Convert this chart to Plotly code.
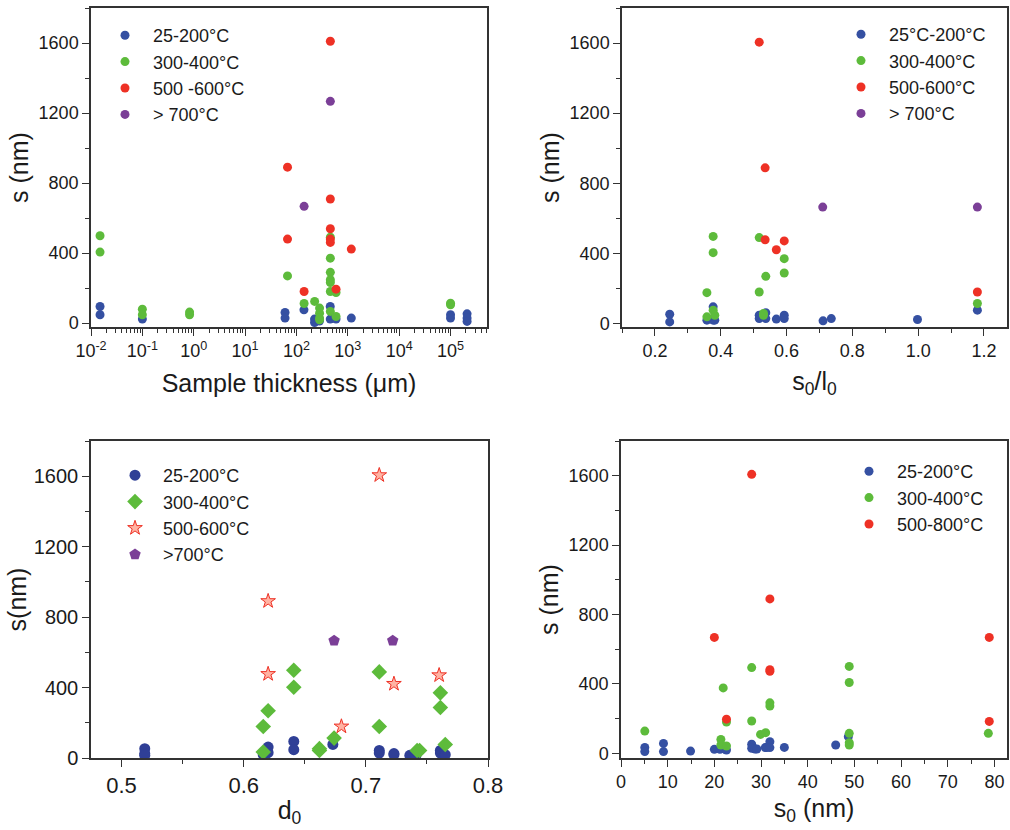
import plotly.graph_objects as go

# ---------------- data ----------------
# Panel A: s vs sample thickness (um), log x
a_blue_x = [0.015, 0.015, 0.1, 60, 60, 140, 225, 225, 280, 280, 455, 455, 590, 1170, 1e5, 1e5, 2.1e5, 2.1e5, 2.1e5]
a_blue_y = [95, 48, 23, 61, 29, 76, 23, 4, 19, 12, 95, 23, 23, 29, 48, 29, 53, 29, 10]
a_green_x = [0.015, 0.015, 0.1, 0.1, 0.83, 0.83, 67, 141, 226, 282, 282, 282, 282,
             457, 457, 457, 457, 457, 457, 457, 590, 590, 1e5, 1e5]
a_green_y = [499, 406, 80, 48, 63, 48, 270, 112, 124, 86, 57, 29, 19,
             491, 371, 290, 248, 232, 181, 67, 175, 38, 114, 105]
a_red_x = [67, 67, 141, 457, 457, 457, 457, 457, 590, 1170]
a_red_y = [891, 480, 181, 1610, 709, 539, 480, 461, 194, 423]
a_purple_x = [141, 457]
a_purple_y = [667, 1267]
a_names = ["25-200°C", "300-400°C", "500 -600°C", "> 700°C"]

# Panel B: s vs s0/l0
b_blue_x = [0.245, 0.245, 0.358, 0.377, 0.377, 0.382, 0.517, 0.517, 0.537, 0.537, 0.569,
            0.593, 0.593, 0.711, 0.736, 0.998, 1.18]
b_blue_y = [53, 9, 19, 95, 19, 19, 47, 28, 61, 28, 25, 47, 28, 15, 28, 23, 76]
b_green_x = [0.358, 0.358, 0.377, 0.377, 0.377, 0.382, 0.517, 0.517, 0.53, 0.53, 0.537,
             0.593, 0.593, 1.18]
b_green_y = [176, 38, 497, 404, 76, 47, 490, 180, 57, 47, 269, 370, 288, 114]
b_red_x = [0.517, 0.535, 0.535, 0.569, 0.593, 1.18]
b_red_y = [1605, 888, 478, 421, 471, 180]
b_purple_x = [0.71, 1.18]
b_purple_y = [664, 664]
b_names = ["25°C-200°C", "300-400°C", "500-600°C", "> 700°C"]

# Panel C: s vs d0
c_blue_x = [0.519, 0.519, 0.519, 0.616, 0.62, 0.62, 0.641, 0.641, 0.673, 0.711, 0.711,
            0.723, 0.723, 0.736, 0.741, 0.761, 0.761, 0.765]
c_blue_y = [53, 25, 15, 19, 62, 30, 94, 47, 77, 43, 28, 25, 19, 15, 15, 43, 28, 19]
c_green_x = [0.616, 0.616, 0.62, 0.641, 0.641, 0.662, 0.662, 0.674, 0.711, 0.711,
             0.742, 0.744, 0.761, 0.761, 0.765]
c_green_y = [179, 34, 268, 498, 402, 53, 43, 113, 489, 179, 43, 43, 370, 287, 77]
c_red_x = [0.62, 0.62, 0.68, 0.711, 0.723, 0.76]
c_red_y = [891, 477, 179, 1606, 421, 470]
c_purple_x = [0.674, 0.722]
c_purple_y = [666, 666]
c_names = ["25-200°C", "300-400°C", "500-600°C", ">700°C"]

# Panel D: s vs s0 (nm)
d_blue_x = [5.1, 5.1, 9.1, 9.1, 14.9, 20, 21.2, 22.3, 22.6, 28, 28, 28.7, 29.1, 30.9, 31.2,
            31.9, 31.9, 35, 46, 48.7]
d_blue_y = [34, 10, 57, 10, 13, 23, 23, 23, 19, 52, 29, 25, 25, 33, 33, 67, 33, 34, 48, 96]
d_green_x = [5.1, 21.4, 21.4, 21.9, 22.6, 22.6, 28, 28, 29.9, 31, 31.9, 31.9,
             48.9, 48.9, 48.9, 48.9, 48.9, 78.7]
d_green_y = [128, 80, 48, 377, 180, 42, 494, 186, 109, 119, 291, 272,
             501, 408, 115, 61, 48, 115]
d_red_x = [20, 22.6, 28, 31.9, 31.9, 31.9, 78.9, 78.9]
d_red_y = [668, 197, 1608, 890, 482, 473, 668, 184]
d_names = ["25-200°C", "300-400°C", "500-800°C"]

y_ticks = [0, 400, 800, 1200, 1600]
log_ticks = [-2, -1, 0, 1, 2, 3, 4, 5]

# ---------------- style ----------------
W, H = 1010, 830
BLUE = "#3550a2"
GREEN = "#5dbb3b"
RED = "#ee3125"
PURPLE = "#7b3f97"
AX = "#333333"
TXT = "#1a1a1a"
FONT = "Liberation Sans, Arial, sans-serif"


def px_x(a, b):
    return [a / W, b / W]


def px_y(top, bottom):
    return [1 - bottom / H, 1 - top / H]


fig = go.Figure()


def add(x, y, name, color, xa, ya, leg, symbol="circle", size=9, line=None):
    mk = dict(color=color, size=size, symbol=symbol)
    if line:
        mk["line"] = line
    fig.add_trace(go.Scatter(x=x, y=y, mode="markers", name=name, marker=mk,
                             xaxis=xa, yaxis=ya, legend=leg))


add(a_blue_x, a_blue_y, a_names[0], BLUE, "x", "y", "legend")
add(a_green_x, a_green_y, a_names[1], GREEN, "x", "y", "legend")
add(a_red_x, a_red_y, a_names[2], RED, "x", "y", "legend")
add(a_purple_x, a_purple_y, a_names[3], PURPLE, "x", "y", "legend")

add(b_blue_x, b_blue_y, b_names[0], BLUE, "x2", "y2", "legend2")
add(b_green_x, b_green_y, b_names[1], GREEN, "x2", "y2", "legend2")
add(b_red_x, b_red_y, b_names[2], RED, "x2", "y2", "legend2")
add(b_purple_x, b_purple_y, b_names[3], PURPLE, "x2", "y2", "legend2")

add(c_blue_x, c_blue_y, c_names[0], "#2f3f96", "x3", "y3", "legend3", size=11)
add(c_green_x, c_green_y, c_names[1], GREEN, "x3", "y3", "legend3", symbol="diamond", size=12)
add(c_red_x, c_red_y, c_names[2], "#ffb3a3", "x3", "y3", "legend3", symbol="star", size=11,
    line=dict(color=RED, width=1))
add(c_purple_x, c_purple_y, c_names[3], PURPLE, "x3", "y3", "legend3", symbol="pentagon", size=12)

add(d_blue_x, d_blue_y, d_names[0], BLUE, "x4", "y4", "legend4")
add(d_green_x, d_green_y, d_names[1], GREEN, "x4", "y4", "legend4")
add(d_red_x, d_red_y, d_names[2], RED, "x4", "y4", "legend4")


def base_axis(fs):
    return dict(showline=True, linecolor=AX, linewidth=1.5, mirror=True, automargin=False,
                ticks="outside", ticklen=7, tickwidth=1.3, tickcolor=AX,
                showgrid=False, zeroline=False,
                tickfont=dict(size=fs, color=TXT, family=FONT))


def yaxis(dom, rng, anchor, title, fs, tfs, standoff):
    d = base_axis(fs)
    d.update(domain=dom, range=rng, anchor=anchor, tickvals=y_ticks,
             minor=dict(dtick=200, ticks="outside", ticklen=4, tickcolor=AX),
             title=dict(text=title, font=dict(size=tfs, color=TXT, family=FONT), standoff=standoff))
    return d


def xaxis(dom, anchor, title, fs, tfs, standoff, **kw):
    d = base_axis(fs)
    d.update(domain=dom, anchor=anchor,
             title=dict(text=title, font=dict(size=tfs, color=TXT, family=FONT), standoff=standoff))
    d.update(kw)
    return d


dA_x, dA_y = px_x(91, 487), px_y(8, 327)
dB_x, dB_y = px_x(622, 1007), px_y(8, 327)
dC_x, dC_y = px_x(91, 488), px_y(441, 758)
dD_x, dD_y = px_x(621, 1007), px_y(441, 758)

rA_x = [-2.0, 5.71]
rA_y = [-22, 1800]
rB_x = [0.1, 1.27]
rB_y = [-20, 1800]
rC_x = [0.475, 0.8]
rC_y = [0, 1800]
rD_x = [0, 82.7]
rD_y = [-27, 1800]

minor_log = [m * 10 ** k for k in range(-2, 6) for m in range(2, 10)]
log_text = ["10<sup>%d</sup>" % k for k in log_ticks]

layout = dict(
    width=W, height=H, margin=dict(l=0, r=0, t=0, b=0, autoexpand=False),
    paper_bgcolor="white", plot_bgcolor="white",
    font=dict(family=FONT, color=TXT),
    xaxis=xaxis(dA_x, "y", "Sample thickness (\u03bcm)", 18, 25, 14, type="log", range=rA_x,
                tickvals=[10 ** k for k in log_ticks], ticktext=log_text,
                minor=dict(tickvals=minor_log, ticks="outside", ticklen=4, tickcolor=AX)),
    yaxis=yaxis(dA_y, rA_y, "x", "s (nm)", 18, 25, 3),
    xaxis2=xaxis(dB_x, "y2", "s<sub>0</sub>/l<sub>0</sub>", 18, 25, 12, range=rB_x,
                 tickvals=[0.2, 0.4, 0.6, 0.8, 1.0, 1.2], ticktext=["0.2", "0.4", "0.6", "0.8", "1.0", "1.2"],
                 minor=dict(dtick=0.1, ticks="outside", ticklen=4, tickcolor=AX)),
    yaxis2=yaxis(dB_y, rB_y, "x2", "s (nm)", 18, 25, 3),
    xaxis3=xaxis(dC_x, "y3", "d<sub>0</sub>", 22, 25, 4, range=rC_x,
                 tickvals=[0.5, 0.6, 0.7, 0.8],
                 minor=dict(dtick=0.05, ticks="outside", ticklen=4, tickcolor=AX)),
    yaxis3=yaxis(dC_y, rC_y, "x3", "s(nm)", 20, 25, 0),
    xaxis4=xaxis(dD_x, "y4", "s<sub>0</sub> (nm)", 18, 25, 8, range=rD_x,
                 tickvals=list(range(0, 90, 10)),
                 minor=dict(dtick=5, ticks="outside", ticklen=4, tickcolor=AX)),
    yaxis4=yaxis(dD_y, rD_y, "x4", "s (nm)", 18, 25, 3),
)

# mirrored (top / right) tick marks pointing inward
mirror_specs = [
    ("x", "y", rA_x, rA_y, dict(type="log", tickvals=[10 ** k for k in log_ticks],
                                 minor=dict(tickvals=minor_log, ticks="inside", ticklen=4, tickcolor=AX))),
    ("x2", "y2", rB_x, rB_y, dict(tickvals=[0.2, 0.4, 0.6, 0.8, 1.0, 1.2],
                                   minor=dict(dtick=0.1, ticks="inside", ticklen=4, tickcolor=AX))),
    ("x3", "y3", rC_x, rC_y, dict(tickvals=[0.5, 0.6, 0.7, 0.8],
                                   minor=dict(dtick=0.05, ticks="inside", ticklen=4, tickcolor=AX))),
    ("x4", "y4", rD_x, rD_y, dict(tickvals=list(range(0, 90, 10)),
                                   minor=dict(dtick=5, ticks="inside", ticklen=4, tickcolor=AX))),
]
for i, (xa, ya, rx, ry, extra) in enumerate(mirror_specs):
    n = 5 + i
    xk, yk = "xaxis%d" % n, "yaxis%d" % n
    xd = dict(overlaying=xa, side="top", anchor=ya, range=rx, ticks="inside", ticklen=7,
              tickwidth=1.3, tickcolor=AX, showticklabels=False, showgrid=False,
              zeroline=False, showline=False, automargin=False)
    xd.update(extra)
    yd = dict(overlaying=ya, side="right", anchor=xa, range=ry, ticks="inside", ticklen=7,
              tickwidth=1.3, tickcolor=AX, showticklabels=False, showgrid=False,
              zeroline=False, showline=False, tickvals=y_ticks, automargin=False,
              minor=dict(dtick=200, ticks="inside", ticklen=4, tickcolor=AX))
    layout[xk] = xd
    layout[yk] = yd

leg_common = dict(bgcolor="rgba(0,0,0,0)", font=dict(size=18, color=TXT, family=FONT),
                  itemwidth=46, xanchor="left", yanchor="top", tracegroupgap=0)
layout["legend"] = dict(leg_common, x=97 / W, y=1 - 17 / H)
layout["legend2"] = dict(leg_common, x=833 / W, y=1 - 16 / H)
layout["legend3"] = dict(leg_common, x=107 / W, y=1 - 457 / H)
layout["legend4"] = dict(leg_common, x=841 / W, y=1 - 453 / H)

fig.update_layout(**layout)
fig.write_html("out.html", config={"displayModeBar": False},
               post_script="document.body.style.margin='0px';document.body.style.overflow='hidden';")
